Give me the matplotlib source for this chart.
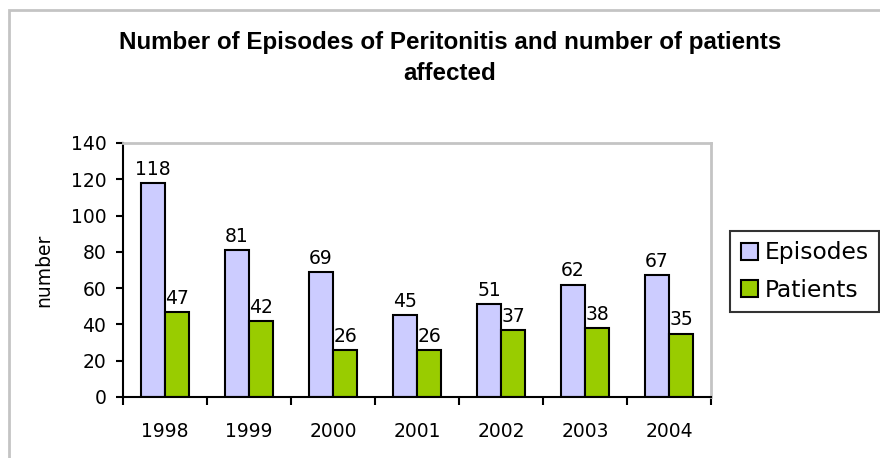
import matplotlib
matplotlib.use("Agg")
import matplotlib.pyplot as plt
import numpy as np
from matplotlib.patches import Rectangle

years = ["1998", "1999", "2000", "2001", "2002", "2003", "2004"]
episodes = [118, 81, 69, 45, 51, 62, 67]
patients = [47, 42, 26, 26, 37, 38, 35]

plt.rcParams['font.family'] = ['DejaVu Sans']

fig = plt.figure(figsize=(8.8, 4.58), dpi=100)
W, H = 880, 458

# grey frame round the whole chart
fig.patches.append(Rectangle((8.5 / W, -0.05), 1.2, 1 - 10 / H + 0.05,
                             transform=fig.transFigure, fill=False,
                             edgecolor="#c4c4c4", linewidth=2))

ax = fig.add_axes([123 / W, 1 - 397 / H, (711 - 123) / W, (397 - 143) / H])

x = np.arange(len(years))
bw = 0.286
b1 = ax.bar(x - bw / 2, episodes, bw, color="#ccccff", edgecolor="black",
            linewidth=1.5, label="Episodes")
b2 = ax.bar(x + bw / 2, patients, bw, color="#99cc00", edgecolor="black",
            linewidth=1.5, label="Patients")

for bars, vals in ((b1, episodes), (b2, patients)):
    for r, v in zip(bars, vals):
        ax.annotate(str(v), (r.get_x() + r.get_width() / 2, v),
                    xytext=(0, 5.8), textcoords="offset points",
                    ha="center", va="baseline", fontsize=13.5)

ax.set_xlim(-0.5, len(years) - 0.5)
ax.set_ylim(0, 140)
ax.set_yticks(range(0, 141, 20))
ax.tick_params(axis="y", direction="out", length=5, width=1.5, labelsize=13.5, pad=7)

# ticks on category boundaries, labels centred under the groups
ax.set_xticks(np.arange(-0.5, len(years), 1))
ax.set_xticklabels([])
ax.set_xticks(x, minor=True)
ax.set_xticklabels(years, minor=True, fontsize=13.5)
ax.tick_params(axis="x", which="major", direction="out", length=6, width=1.5)
ax.tick_params(axis="x", which="minor", length=0, pad=18)

for s in ("left", "bottom"):
    ax.spines[s].set_color("black")
    ax.spines[s].set_linewidth(1.5)
for s in ("top", "right"):
    ax.spines[s].set_color("#c4c4c4")
    ax.spines[s].set_linewidth(2)

ax.set_ylabel("number", fontsize=13.5)
ax.yaxis.set_label_coords(-0.119, 0.5)

title_font = dict(ha="center", va="baseline", fontsize=17.4, fontweight="bold",
                  family=["Liberation Sans", "DejaVu Sans"])
fig.text(450 / W, 1 - 49 / H,
         "Number of Episodes of Peritonitis and number of patients", **title_font)
fig.text(450 / W, 1 - 80 / H, "affected", **title_font)

leg = fig.legend(handles=[b1, b2], loc="upper left",
                 bbox_to_anchor=(730 / W, 1 - 231 / H), fontsize=16.8,
                 frameon=True, fancybox=False, edgecolor="black",
                 handlelength=0.73, handleheight=0.73, handletextpad=0.3,
                 borderpad=0.45, labelspacing=0.62, borderaxespad=0)
leg.get_frame().set_linewidth(1.5)

fig.savefig("out.png", dpi=100)
